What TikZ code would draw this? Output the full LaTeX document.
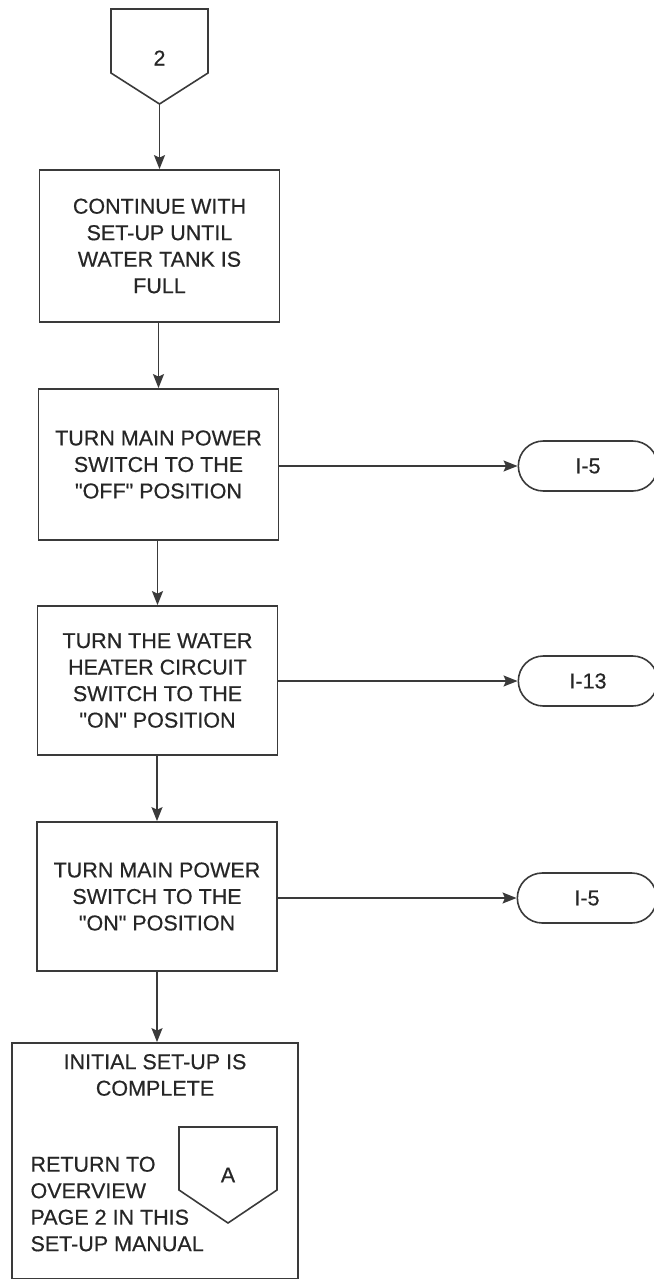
\documentclass[tikz,border=0pt]{standalone}
\usepackage{fontspec}
\setmainfont{Liberation Sans}[Ligatures=TeXOff, FakeBold=0.5]
\usetikzlibrary{positioning, calc, arrows.meta, shapes.misc}

\definecolor{inkgray}{HTML}{3A3A3A}

\begin{document}
\begin{tikzpicture}[x=1pt, y=1pt, >={Stealth[length=14pt,width=11pt,inset=2.5pt]},
    txt/.style={font=\fontsize{21.5}{26.5}\selectfont, text=black!85, align=center},
    stepbox/.style={txt, draw=inkgray, line width=1.8pt, rectangle, minimum width=240pt},
    pagelink/.style={txt, draw=inkgray, line width=1.6pt, rounded rectangle, minimum width=146pt, minimum height=50pt},
    flow/.style={->, draw=inkgray, line width=1.4pt}]
    % Page frame
    \useasboundingbox (0,0) rectangle (653,-1279);

    % Off-page connector 2
    \draw[inkgray, line width=1.6pt] (111,-9) -- (208,-9) -- (208,-73) -- (159.5,-104) -- (111,-73) -- cycle;
    \node[txt] (p2) at (159.5,-58) {2};
    \coordinate (p2tip) at (159.5,-104);

    % Steps
    \node[stepbox, minimum height=152pt] (b1) at (159.5,-246) {CONTINUE WITH\\SET-UP UNTIL\\WATER TANK IS\\FULL};
    \node[stepbox, minimum height=151pt] (b2) at (158.5,-464.5) {TURN MAIN POWER\\SWITCH TO THE\\"OFF" POSITION};
    \node[stepbox, minimum height=149pt] (b3) at (157.5,-680.5) {TURN THE WATER\\HEATER CIRCUIT\\SWITCH TO THE\\"ON" POSITION};
    \node[stepbox, minimum height=149pt] (b4) at (157,-896.5) {TURN MAIN POWER\\SWITCH TO THE\\"ON" POSITION};
    \node[stepbox, minimum width=286pt, minimum height=236pt] (b5) at (155,-1161) {};

    % Text inside the last step
    \node[txt] (done) at (155,-1075) {INITIAL SET-UP IS\\COMPLETE};
    \node[txt, align=left, anchor=west] (ret) at (27,-1204) {RETURN TO\\OVERVIEW\\PAGE 2 IN THIS\\SET-UP MANUAL};
    \draw[inkgray, line width=1.6pt] (179,-1127) -- (277,-1127) -- (277,-1190) -- (228,-1223) -- (179,-1190) -- cycle;
    \node[txt] (pa) at (228,-1175) {A};

    % Page references
    \node[pagelink] (o1) at (588,-466) {I-5};
    \node[pagelink] (o2) at (588,-681) {I-13};
    \node[pagelink] (o3) at (587,-898) {I-5};

    % Main flow
    \draw[flow] (p2tip) -- (b1.north);
    \draw[flow] (b1.south -| b2) -- (b2.north);
    \draw[flow] (b2.south -| b3) -- (b3.north);
    \draw[flow] (b3.south -| b4) -- (b4.north);
    \draw[flow] (b4.south) -- (b4.south |- b5.north);

    % Side flow to the page references
    \draw[flow] (b2.east |- o1) -- (o1.west);
    \draw[flow] (b3.east |- o2) -- (o2.west);
    \draw[flow] (b4.east |- o3) -- (o3.west);
\end{tikzpicture}
\end{document}
